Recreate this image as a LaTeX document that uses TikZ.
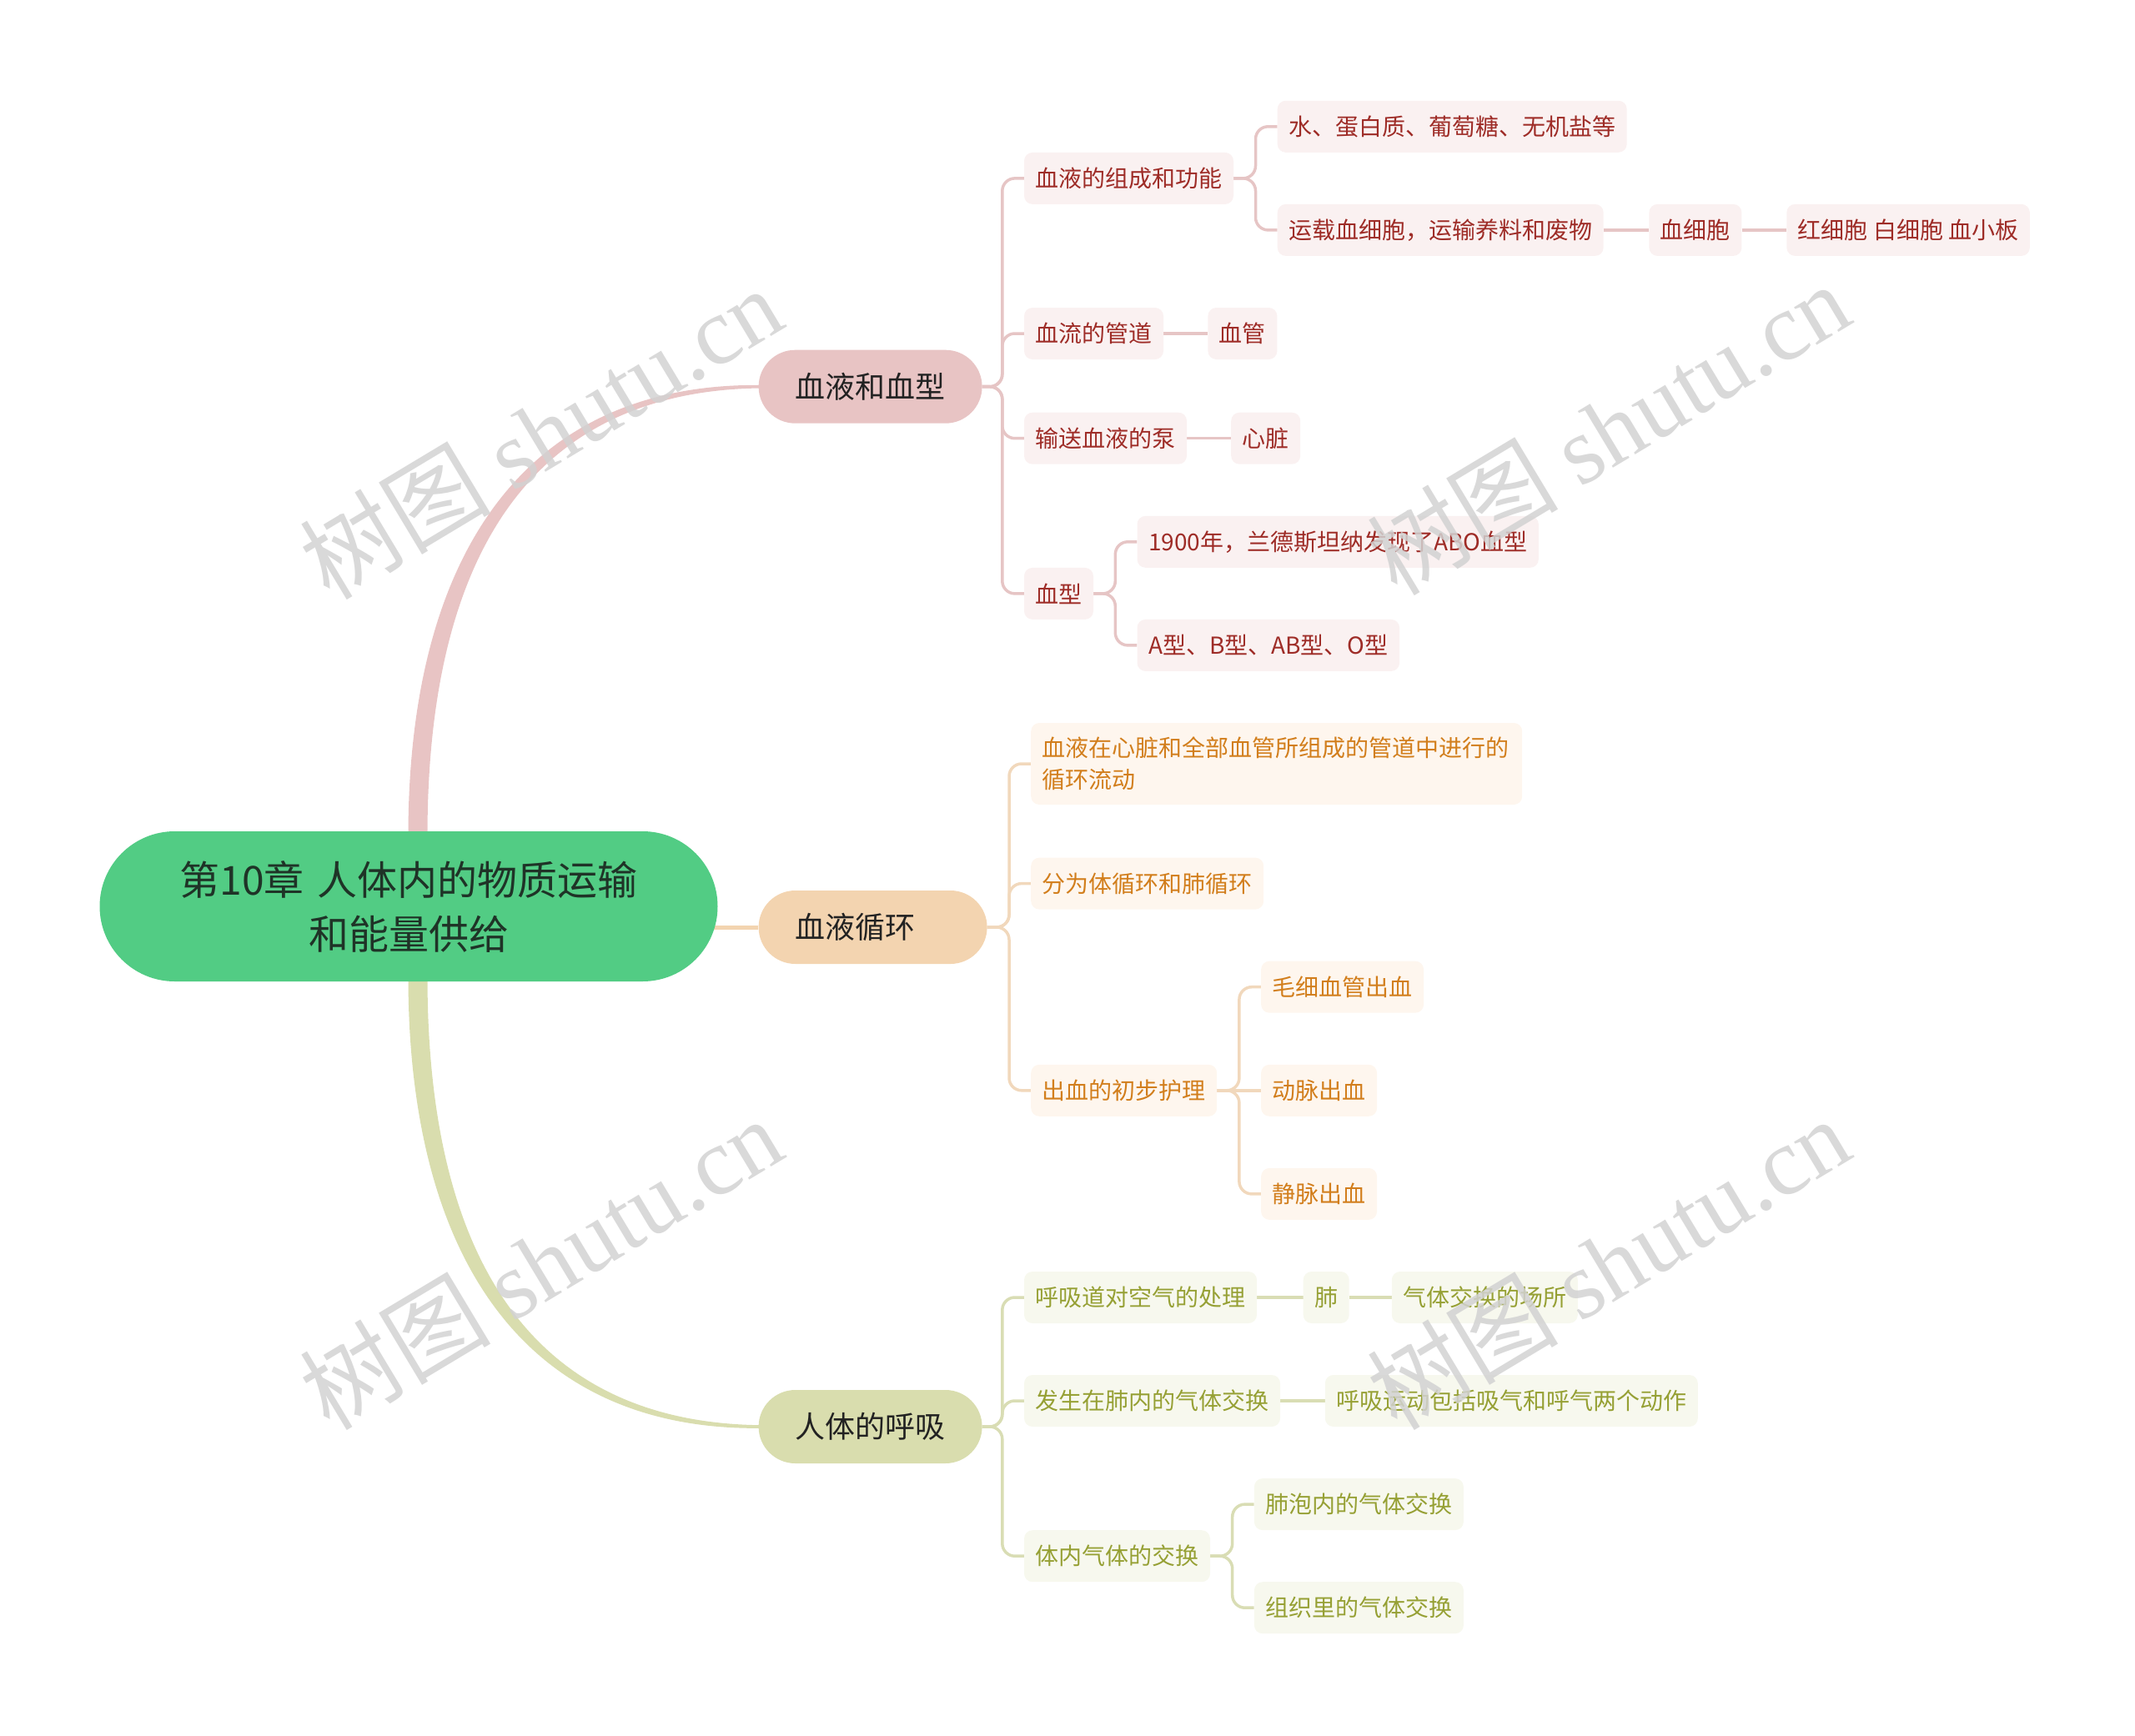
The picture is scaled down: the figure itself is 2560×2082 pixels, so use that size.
\documentclass[tikz,border=0pt]{standalone}
\usepackage{fontspec}
\setmainfont{Noto Sans CJK SC}
\newfontfamily\wmserif{Liberation Serif}
\usetikzlibrary{calc,backgrounds}

\definecolor{rootg}{HTML}{52CC84}
\definecolor{roott}{HTML}{1F3327}
\definecolor{lonet}{HTML}{222222}
\definecolor{pkF}{HTML}{E8C4C4}
\definecolor{pkL}{HTML}{E6C5C5}
\definecolor{pkB}{HTML}{FAF1F1}
\definecolor{pkT}{HTML}{9E2C27}
\definecolor{orF}{HTML}{F3D4B0}
\definecolor{orL}{HTML}{F1D8BC}
\definecolor{orB}{HTML}{FEF6EE}
\definecolor{orT}{HTML}{D27E1C}
\definecolor{olF}{HTML}{D9DDAE}
\definecolor{olL}{HTML}{D9DDB4}
\definecolor{olB}{HTML}{F7F8EE}
\definecolor{olT}{HTML}{96A034}
\definecolor{wm}{HTML}{D2D2D2}

% curved branch connector: parent east -> spine -> child west
\newcommand\conn[3]{\draw[#3, rounded corners=15pt] let \p1=(#1.east), \p2=(#2.west) in
  (\p1) -- ({\x2-26pt},\y1) -- ({\x2-26pt},\y2) -- (\p2);}
% straight connector
\newcommand\straight[3]{\draw[#3] (#1) -- (#2);}
% tapered main branch (#4 = +1 up, -1 down)
\newcommand\taperline[4]{\fill[#3] let \p1=(#1), \p2=(#2), \n1={#4} in
  ({\x1-11.5pt},\y1) .. controls ({\x1-11.5pt},{\y1+0.6*(\y2-\y1)+\n1*6pt}) and ({\x1+0.3*(\x2-\x1)},{\y2+\n1*5pt}) .. ({\x2+3pt},{\y2+\n1*1.8pt})
  -- ({\x2+3pt},{\y2-\n1*1.8pt}) .. controls ({\x1+0.3*(\x2-\x1)},{\y2-\n1*5pt}) and ({\x1+11.5pt},{\y1+0.6*(\y2-\y1)-\n1*6pt}) .. ({\x1+11.5pt},\y1) -- cycle;}

\begin{document}
\begin{tikzpicture}[x=1pt,y=-1pt,
  rootbox/.style={rounded corners=90pt, fill=rootg, text=roott, minimum height=180pt,
    text width=560pt, inner xsep=90.5pt, inner ysep=0pt, align=center,
    font=\fontsize{48}{65}\selectfont},
  lone/.style={rounded corners=44pt, minimum height=88pt, inner xsep=44pt, inner ysep=0pt,
    text width=180pt, align=left, anchor=west, font=\fontsize{36}{43}\selectfont, text=lonet},
  ltwo/.style={rounded corners=10pt, minimum height=62pt, inner xsep=13.5pt, inner ysep=0pt,
    anchor=west, font=\fontsize{28}{37.5}\selectfont},
  pk/.style={ltwo, fill=pkB, text=pkT},
  or/.style={ltwo, fill=orB, text=orT},
  ol/.style={ltwo, fill=olB, text=olT},
  pkline/.style={draw=pkL, line width=3.5pt},
  orline/.style={draw=orL, line width=3.5pt},
  olline/.style={draw=olL, line width=3.5pt},
  wmark/.style={text=wm, text opacity=0.85, inner sep=0pt, rotate=31,
    font=\fontsize{115}{120}\selectfont}
]
\path[use as bounding box] (0,0) rectangle (2560,2082);

% root and main topics
\node[rootbox] (root) at (490,1087) {第10章 人体内的物质运输\\和能量供给};
\node[lone, fill=pkF] (A) at (909.4,463.7) {血液和血型};
\node[lone, fill=orF, text width=186pt] (B) at (909.4,1112) {血液循环};
\node[lone, fill=olF] (C) at (909.4,1711) {人体的呼吸};

% branch A
\node[pk] (a1) at (1227.8,213.9) {血液的组成和功能};
\node[pk] (a11) at (1531.5,151.8) {水、蛋白质、葡萄糖、无机盐等};
\node[pk] (a12) at (1531.5,275.9) {运载血细胞，运输养料和废物};
\node[pk] (a121) at (1977.2,275.9) {血细胞};
\node[pk] (a1211) at (2142.1,275.9) {红细胞 白细胞 血小板};
\node[pk] (a2) at (1227.8,400) {血流的管道};
\node[pk] (a21) at (1448.2,400) {血管};
\node[pk] (a3) at (1227.8,525.7) {输送血液的泵};
\node[pk] (a31) at (1476,525.7) {心脏};
\node[pk] (a4) at (1227.8,711.9) {血型};
\node[pk] (a41) at (1363.3,649.8) {1900年，兰德斯坦纳发现了ABO血型};
\node[pk] (a42) at (1363.3,773.9) {A型、B型、AB型、O型};

% branch B
\node[or, minimum height=98pt, text width=562pt, align=left] (b1) at (1236,916)
  {血液在心脏和全部血管所组成的管道中进行的\\循环流动};
\node[or] (b2) at (1236,1059.6) {分为体循环和肺循环};
\node[or] (b3) at (1236,1307.8) {出血的初步护理};
\node[or] (b31) at (1511.9,1183.7) {毛细血管出血};
\node[or] (b32) at (1511.9,1307.8) {动脉出血};
\node[or] (b33) at (1511.9,1431.9) {静脉出血};

% branch C
\node[ol] (c1) at (1227.8,1556) {呼吸道对空气的处理};
\node[ol] (c11) at (1562.5,1556) {肺};
\node[ol] (c111) at (1668.6,1556) {气体交换的场所};
\node[ol] (c2) at (1227.8,1680) {发生在肺内的气体交换};
\node[ol] (c21) at (1588.6,1680) {呼吸运动包括吸气和呼气两个动作};
\node[ol] (c3) at (1227.8,1866.2) {体内气体的交换};
\node[ol] (c31) at (1503.7,1804.1) {肺泡内的气体交换};
\node[ol] (c32) at (1503.7,1928.2) {组织里的气体交换};

\begin{scope}[on background layer]
  \taperline{$(root.north)+(11,6)$}{A.west}{pkF}{1}
  \taperline{$(root.south)+(11,-6)$}{C.west}{olF}{-1}
  \draw[orF, line width=5pt] (root.center |- B.west) -- (B.west);

  \conn{A}{a1}{pkline} \conn{A}{a2}{pkline} \conn{A}{a3}{pkline} \conn{A}{a4}{pkline}
  \conn{a1}{a11}{pkline} \conn{a1}{a12}{pkline}
  \straight{a12}{a121}{pkline} \straight{a121}{a1211}{pkline}
  \straight{a2}{a21}{pkline} \straight{a3}{a31}{pkline}
  \conn{a4}{a41}{pkline} \conn{a4}{a42}{pkline}

  \conn{B}{b1}{orline} \conn{B}{b2}{orline} \conn{B}{b3}{orline}
  \conn{b3}{b31}{orline} \straight{b3}{b32}{orline} \conn{b3}{b33}{orline}

  \conn{C}{c1}{olline} \conn{C}{c2}{olline} \conn{C}{c3}{olline}
  \straight{c1}{c11}{olline} \straight{c11}{c111}{olline}
  \straight{c2}{c21}{olline}
  \conn{c3}{c31}{olline} \conn{c3}{c32}{olline}
\end{scope}

% watermarks
\node[wmark] (w1) at (648,519) {树图 {\wmserif shutu.cn}};
\node[wmark] (w2) at (1928,514) {树图 {\wmserif shutu.cn}};
\node[wmark] (w3) at (648,1515) {树图 {\wmserif shutu.cn}};
\node[wmark] (w4) at (1928,1515) {树图 {\wmserif shutu.cn}};
\end{tikzpicture}
\end{document}
